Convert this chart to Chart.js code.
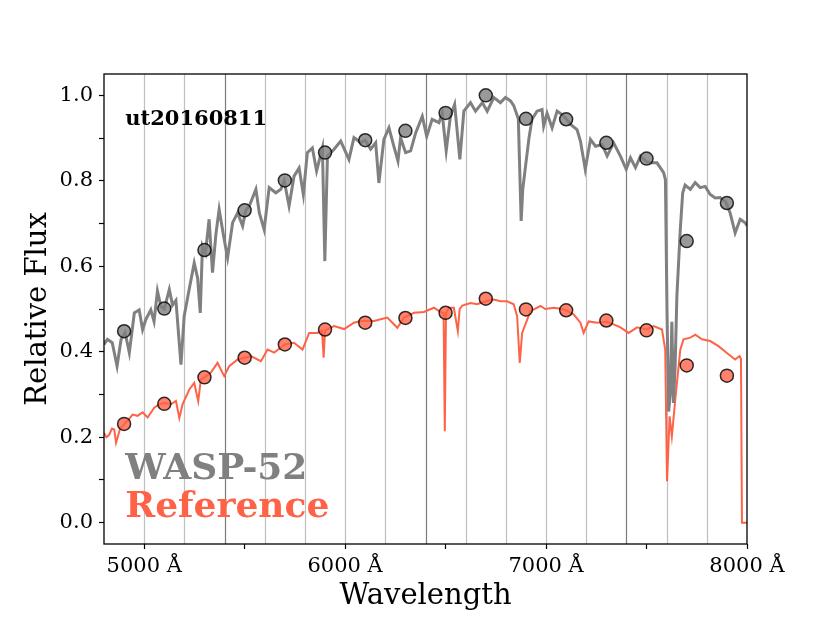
<!DOCTYPE html>
<html>
<head>
<meta charset="utf-8">
<script src="https://cdn.jsdelivr.net/npm/chart.js@4.4.0/dist/chart.umd.min.js"></script>
<style>
  body { margin: 0; background: #fff; }
  canvas { display: block; }
</style>
</head>
<body>
<canvas id="spectrumChart" width="830" height="623"></canvas>
<script>
// Binned light curve points (bin centres, 200 A wide bins)
var binCenters = [4900, 5100, 5300, 5500, 5700, 5900, 6100, 6300, 6500, 6700, 6900, 7100, 7300, 7500, 7700, 7900];
var waspBinFlux = [0.448, 0.501, 0.638, 0.731, 0.801, 0.866, 0.895, 0.917, 0.959, 1.0, 0.945, 0.944, 0.889, 0.852, 0.659, 0.748];
var refBinFlux = [0.231, 0.278, 0.340, 0.386, 0.417, 0.452, 0.468, 0.479, 0.491, 0.524, 0.499, 0.497, 0.473, 0.450, 0.368, 0.344];

// Bin edges (vertical lines)
var binEdges = [5000, 5200, 5400, 5600, 5800, 6000, 6200, 6400, 6600, 6800, 7000, 7200, 7400, 7600, 7800];

// WASP-52 spectrum
var waspWave = [4800, 4817, 4841, 4865, 4885, 4905, 4926, 4951, 4975, 4992, 5008, 5033, 5049, 5066, 5083, 5100,
  5125, 5141, 5158, 5183, 5199, 5224, 5249, 5266, 5279, 5290, 5305, 5323, 5340, 5357, 5373, 5398, 5415, 5440,
  5465, 5490, 5505, 5523, 5556, 5573, 5597, 5622, 5655, 5680, 5697, 5721, 5746, 5771, 5792, 5812, 5837, 5858,
  5887, 5899, 5912, 5945, 5978, 6019, 6044, 6078, 6100, 6127, 6152, 6168, 6193, 6218, 6243, 6263, 6276, 6301,
  6326, 6351, 6384, 6406, 6433, 6467, 6483, 6503, 6524, 6545, 6571, 6591, 6624, 6649, 6683, 6707, 6740, 6773,
  6798, 6823, 6839, 6862, 6876, 6884, 6898, 6915, 6930, 6955, 6980, 6988, 7005, 7030, 7055, 7080, 7100, 7122,
  7154, 7171, 7195, 7221, 7246, 7279, 7304, 7336, 7370, 7399, 7420, 7445, 7470, 7500, 7519, 7552, 7585, 7594,
  7602, 7610, 7618, 7626, 7634, 7642, 7651, 7668, 7680, 7692, 7718, 7742, 7767, 7792, 7817, 7842, 7866, 7895,
  7916, 7941, 7966, 7991, 8000];
var waspFlux = [0.417, 0.429, 0.421, 0.366, 0.429, 0.445, 0.398, 0.491, 0.498, 0.452, 0.475, 0.498, 0.471, 0.542, 0.506, 0.500,
  0.546, 0.509, 0.520, 0.370, 0.483, 0.546, 0.608, 0.572, 0.491, 0.647, 0.630, 0.710, 0.585, 0.676, 0.733, 0.663, 0.620, 0.702,
  0.725, 0.694, 0.730, 0.741, 0.780, 0.725, 0.686, 0.784, 0.772, 0.780, 0.800, 0.741, 0.811, 0.830, 0.768, 0.866, 0.877, 0.823,
  0.877, 0.612, 0.858, 0.874, 0.893, 0.850, 0.901, 0.889, 0.895, 0.874, 0.889, 0.795, 0.897, 0.924, 0.880, 0.846, 0.901, 0.866,
  0.870, 0.912, 0.951, 0.904, 0.944, 0.936, 0.958, 0.870, 0.951, 0.979, 0.850, 0.963, 0.983, 0.963, 0.983, 0.963, 0.995, 0.983,
  0.995, 0.987, 0.976, 0.945, 0.706, 0.780, 0.835, 0.900, 0.944, 0.963, 0.967, 0.928, 0.958, 0.924, 0.963, 0.955, 0.945, 0.932,
  0.920, 0.893, 0.827, 0.897, 0.881, 0.885, 0.858, 0.889, 0.858, 0.827, 0.854, 0.831, 0.858, 0.845, 0.842, 0.842, 0.819, 0.803,
  0.490, 0.260, 0.300, 0.470, 0.280, 0.360, 0.530, 0.686, 0.772, 0.790, 0.780, 0.796, 0.784, 0.787, 0.768, 0.760, 0.761, 0.750,
  0.725, 0.678, 0.710, 0.702, 0.695];

// Reference star spectrum
var refWave = [4800, 4812, 4825, 4840, 4851, 4860, 4880, 4900, 4920, 4942, 4967, 4992, 5017, 5050, 5075, 5100, 5133,
  5158, 5175, 5191, 5224, 5249, 5269, 5282, 5300, 5332, 5365, 5398, 5423, 5465, 5500, 5531, 5581, 5614, 5647, 5680,
  5700, 5746, 5788, 5821, 5862, 5885, 5893, 5900, 5945, 5995, 6044, 6078, 6144, 6177, 6210, 6260, 6293, 6343, 6392,
  6442, 6475, 6490, 6496, 6502, 6516, 6541, 6561, 6570, 6583, 6624, 6657, 6700, 6740, 6773, 6806, 6839, 6856, 6869,
  6881, 6906, 6922, 6972, 6996, 7038, 7080, 7100, 7138, 7171, 7187, 7212, 7254, 7300, 7336, 7370, 7411, 7453, 7500,
  7535, 7577, 7593, 7602, 7615, 7626, 7643, 7668, 7684, 7718, 7743, 7776, 7817, 7858, 7900, 7941, 7963, 7970, 7975, 8000];
var refFlux = [0.210, 0.200, 0.205, 0.220, 0.218, 0.187, 0.220, 0.230, 0.240, 0.253, 0.250, 0.258, 0.246, 0.269, 0.277, 0.280, 0.277,
  0.285, 0.245, 0.277, 0.311, 0.327, 0.284, 0.335, 0.340, 0.351, 0.374, 0.343, 0.366, 0.382, 0.386, 0.390, 0.378, 0.405, 0.398, 0.410,
  0.417, 0.421, 0.405, 0.444, 0.444, 0.450, 0.386, 0.450, 0.460, 0.453, 0.468, 0.472, 0.472, 0.476, 0.480, 0.456, 0.480, 0.491, 0.493,
  0.503, 0.493, 0.490, 0.214, 0.490, 0.503, 0.503, 0.448, 0.500, 0.508, 0.514, 0.511, 0.518, 0.522, 0.518, 0.518, 0.511, 0.483, 0.374,
  0.444, 0.475, 0.495, 0.507, 0.500, 0.503, 0.500, 0.497, 0.487, 0.468, 0.444, 0.471, 0.468, 0.470, 0.464, 0.457, 0.444, 0.457, 0.452,
  0.460, 0.452, 0.405, 0.097, 0.249, 0.202, 0.288, 0.405, 0.429, 0.433, 0.440, 0.429, 0.425, 0.413, 0.397, 0.382, 0.390, 0.383, 0.0, 0.0];

// Axis ticks
var xTickValues = [5000, 5500, 6000, 6500, 7000, 7500, 8000];
var yTickValues = [0, 0.1, 0.2, 0.3, 0.4, 0.5, 0.6, 0.7, 0.8, 0.9, 1.0];

var SERIF = "'DejaVu Serif', serif";
var GRAY = '#808080';
var TOMATO = '#FF6347';

function toPoints(xs, ys) {
  var pts = [];
  for (var i = 0; i < xs.length; i++) {
    pts.push({ x: xs[i], y: ys[i] });
  }
  return pts;
}

// vertical lines at the bin edges, behind the spectra
var binLinesPlugin = {
  id: 'binLines',
  beforeDatasetsDraw: function (chart) {
    var ctx = chart.ctx, area = chart.chartArea, xs = chart.scales.x;
    ctx.save();
    binEdges.forEach(function (edge) {
      var px = Math.round(xs.getPixelForValue(edge)) + 0.5;
      ctx.strokeStyle = (edge - 5400) % 1000 === 0 ? 'rgba(110,110,110,0.9)' : 'rgba(175,175,175,0.8)';
      ctx.lineWidth = 1.2;
      ctx.beginPath();
      ctx.moveTo(px, area.top);
      ctx.lineTo(px, area.bottom);
      ctx.stroke();
    });
    ctx.restore();
  }
};

// axes frame and the text labels inside the plot
var framePlugin = {
  id: 'frameAndLabels',
  afterDraw: function (chart) {
    var ctx = chart.ctx, a = chart.chartArea;
    var w = a.right - a.left, h = a.bottom - a.top;
    ctx.save();
    ctx.strokeStyle = '#000';
    ctx.lineWidth = 1.3;
    ctx.strokeRect(a.left, a.top, w, h);

    ctx.textAlign = 'left';
    ctx.textBaseline = 'alphabetic';
    ctx.fillStyle = '#000';
    ctx.font = 'bold 21px ' + SERIF;
    ctx.fillText('ut20160811', a.left + 0.033 * w, a.top + 0.108 * h);

    ctx.font = 'bold 36px ' + SERIF;
    ctx.fillStyle = GRAY;
    ctx.fillText('WASP-52', a.left + 0.033 * w, a.top + 0.862 * h);
    ctx.fillStyle = TOMATO;
    ctx.fillText('Reference', a.left + 0.033 * w, a.top + 0.943 * h);
    ctx.restore();
  }
};

var ctx = document.getElementById('spectrumChart').getContext('2d');

var spectrumChart = new Chart(ctx, {
  type: 'scatter',
  data: {
    datasets: [
      {
        label: 'WASP-52 bins',
        data: toPoints(binCenters, waspBinFlux),
        pointRadius: 6.5,
        pointBackgroundColor: 'rgba(128,128,128,0.8)',
        pointBorderColor: 'rgba(0,0,0,0.8)',
        pointBorderWidth: 1.5
      },
      {
        label: 'Reference bins',
        data: toPoints(binCenters, refBinFlux),
        pointRadius: 6.5,
        pointBackgroundColor: 'rgba(255,99,71,0.8)',
        pointBorderColor: 'rgba(0,0,0,0.8)',
        pointBorderWidth: 1.5
      },
      {
        label: 'WASP-52',
        data: toPoints(waspWave, waspFlux),
        showLine: true,
        borderColor: GRAY,
        borderWidth: 3,
        pointRadius: 0,
        tension: 0
      },
      {
        label: 'Reference',
        data: toPoints(refWave, refFlux),
        showLine: true,
        borderColor: TOMATO,
        borderWidth: 2,
        pointRadius: 0,
        tension: 0
      }
    ]
  },
  options: {
    responsive: false,
    animation: false,
    events: [],
    layout: { padding: { left: 0, top: 74, right: 83, bottom: 0 } },
    plugins: {
      legend: { display: false },
      tooltip: { enabled: false }
    },
    scales: {
      x: {
        type: 'linear',
        min: 4800,
        max: 8000,
        afterFit: function (scale) { scale.height = 79; },
        afterBuildTicks: function (scale) {
          scale.ticks = xTickValues.map(function (v) { return { value: v }; });
        },
        border: { display: false },
        grid: { drawOnChartArea: false, drawTicks: true, tickLength: 5, tickColor: '#000', tickWidth: 1.2 },
        ticks: {
          autoSkip: false,
          maxRotation: 0,
          padding: 5,
          color: '#000',
          font: { family: SERIF, size: 21 },
          callback: function (v) { return v % 1000 === 0 ? v + ' Å' : ''; }
        },
        title: {
          display: true,
          text: 'Wavelength',
          color: '#000',
          font: { family: SERIF, size: 29 },
          padding: { top: 0, bottom: 9 }
        }
      },
      y: {
        type: 'linear',
        min: -0.05,
        max: 1.05,
        afterFit: function (scale) { scale.width = 104; },
        afterBuildTicks: function (scale) {
          scale.ticks = yTickValues.map(function (v) { return { value: v }; });
        },
        border: { display: false },
        grid: { drawOnChartArea: false, drawTicks: true, tickLength: 5, tickColor: '#000', tickWidth: 1.2 },
        ticks: {
          autoSkip: false,
          padding: 6,
          color: '#000',
          font: { family: SERIF, size: 21 },
          callback: function (v) { return Math.round(v * 10) % 2 === 0 ? v.toFixed(1) : ''; }
        },
        title: {
          display: true,
          text: 'Relative Flux',
          color: '#000',
          font: { family: SERIF, size: 29 },
          padding: { top: 21, bottom: 0 }
        }
      }
    }
  },
  plugins: [binLinesPlugin, framePlugin]
});
</script>
</body>
</html>
